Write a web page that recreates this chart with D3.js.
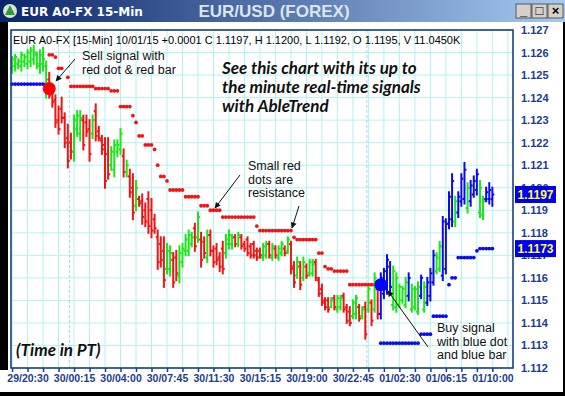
<!DOCTYPE html>
<html>
<head>
<meta charset="utf-8">
<script src="https://cdnjs.cloudflare.com/ajax/libs/d3/7.8.5/d3.min.js"></script>
<style>
    body { margin: 0; background: #fff; }
    svg { display: block; }
</style>
</head>
<body>
<svg id="chart"></svg>
<script>
// 15-min bars, index 0 = 29/19:15
var barColors = ("gggggggggg" + "ggrrrrrrrr" + "gggrrrgrrr" + "rrggggrgrr" + "grrrrrrrrr" +
    "ggrrgggggr" + "grrgrrrrrg" + "ggrgrrrrrr" + "rggrgrggrg" + "rrgrgrggrr" +
    "rrrgrggrrr" + "ggrgrgrgrb" + "bbbgggggbg" + "ggbgbbbggb" + "bbbgbbbgbb" + "bggbbb").split("");

var highs = [
    1.1258, 1.1259, 1.1257, 1.1260, 1.1259, 1.1261, 1.1262, 1.1263, 1.1260, 1.1261,
    1.1262, 1.1256, 1.1251, 1.1244, 1.1241, 1.1236, 1.1240, 1.1233, 1.1228, 1.1224,
    1.1232, 1.1234, 1.1234, 1.1232, 1.1232, 1.1230, 1.1232, 1.1237, 1.1227, 1.1223,
    1.1222, 1.1222, 1.1218, 1.1221, 1.1221, 1.1226, 1.1217, 1.1212, 1.1208, 1.1206,
    1.1203, 1.1196, 1.1197, 1.1193, 1.1198, 1.1195, 1.1188, 1.1181, 1.1178, 1.1178,
    1.1175, 1.1174, 1.1171, 1.1172, 1.1174, 1.1175, 1.1179, 1.1181, 1.1180, 1.1184,
    1.1189, 1.1180, 1.1178, 1.1181, 1.1181, 1.1174, 1.1175, 1.1171, 1.1176, 1.1179,
    1.1181, 1.1179, 1.1179, 1.1180, 1.1179, 1.1176, 1.1178, 1.1175, 1.1176, 1.1173,
    1.1173, 1.1175, 1.1176, 1.1176, 1.1175, 1.1174, 1.1174, 1.1176, 1.1174, 1.1178,
    1.1176, 1.1167, 1.1169, 1.1167, 1.1169, 1.1166, 1.1168, 1.1168, 1.1168, 1.1160,
    1.1157, 1.1151, 1.1151, 1.1151, 1.1152, 1.1152, 1.1152, 1.1153, 1.1148, 1.1147,
    1.1150, 1.1152, 1.1148, 1.1147, 1.1149, 1.1156, 1.1150, 1.1162, 1.1156, 1.1162,
    1.1164, 1.1170, 1.1167, 1.1165, 1.1162, 1.1157, 1.1156, 1.1160, 1.1162, 1.1157,
    1.1156, 1.1158, 1.1161, 1.1158, 1.1160, 1.1164, 1.1172, 1.1171, 1.1176, 1.1187,
    1.1186, 1.1198, 1.1206, 1.1196, 1.1198, 1.1206, 1.1211, 1.1202, 1.1203, 1.1205,
    1.1208, 1.1203, 1.1196, 1.1200, 1.1202, 1.1200
];

var lows = [
    1.1251, 1.1252, 1.1253, 1.1252, 1.1254, 1.1253, 1.1254, 1.1255, 1.1253, 1.1251,
    1.1252, 1.1240, 1.1240, 1.1236, 1.1227, 1.1224, 1.1229, 1.1218, 1.1209, 1.1213,
    1.1212, 1.1223, 1.1221, 1.1217, 1.1223, 1.1212, 1.1222, 1.1221, 1.1221, 1.1215,
    1.1200, 1.1204, 1.1208, 1.1205, 1.1214, 1.1215, 1.1205, 1.1205, 1.1196, 1.1186,
    1.1190, 1.1192, 1.1184, 1.1183, 1.1180, 1.1178, 1.1180, 1.1164, 1.1165, 1.1156,
    1.1162, 1.1161, 1.1156, 1.1159, 1.1158, 1.1165, 1.1170, 1.1170, 1.1174, 1.1172,
    1.1176, 1.1165, 1.1169, 1.1167, 1.1170, 1.1165, 1.1166, 1.1163, 1.1162, 1.1169,
    1.1173, 1.1173, 1.1174, 1.1174, 1.1173, 1.1172, 1.1170, 1.1169, 1.1169, 1.1168,
    1.1169, 1.1168, 1.1169, 1.1169, 1.1168, 1.1169, 1.1168, 1.1170, 1.1170, 1.1171,
    1.1162, 1.1156, 1.1160, 1.1155, 1.1159, 1.1160, 1.1161, 1.1161, 1.1159, 1.1152,
    1.1148, 1.1146, 1.1145, 1.1147, 1.1146, 1.1145, 1.1146, 1.1145, 1.1140, 1.1139,
    1.1142, 1.1142, 1.1141, 1.1142, 1.1133, 1.1145, 1.1139, 1.1145, 1.1142, 1.1142,
    1.1151, 1.1153, 1.1154, 1.1146, 1.1145, 1.1147, 1.1149, 1.1147, 1.1150, 1.1145,
    1.1146, 1.1144, 1.1151, 1.1145, 1.1148, 1.1150, 1.1157, 1.1162, 1.1163, 1.1159,
    1.1162, 1.1182, 1.1183, 1.1183, 1.1187, 1.1192, 1.1193, 1.1189, 1.1192, 1.1196,
    1.1197, 1.1187, 1.1186, 1.1194, 1.1193, 1.1192
];

var opens = [
    1.1253, 1.1254, 1.1255, 1.1254, 1.1256, 1.1255, 1.1256, 1.1257, 1.1259, 1.1254,
    1.1255, 1.1254, 1.1248, 1.1242, 1.1239, 1.1230, 1.1235, 1.1231, 1.1222, 1.1220,
    1.1216, 1.1226, 1.1224, 1.1230, 1.1229, 1.1226, 1.1224, 1.1234, 1.1225, 1.1221,
    1.1219, 1.1215, 1.1210, 1.1208, 1.1216, 1.1217, 1.1214, 1.1207, 1.1205, 1.1200,
    1.1192, 1.1195, 1.1194, 1.1190, 1.1195, 1.1190, 1.1186, 1.1178, 1.1175, 1.1172,
    1.1164, 1.1164, 1.1168, 1.1169, 1.1161, 1.1167, 1.1172, 1.1172, 1.1175, 1.1182,
    1.1178, 1.1177, 1.1176, 1.1169, 1.1179, 1.1172, 1.1173, 1.1169, 1.1173, 1.1171,
    1.1175, 1.1175, 1.1178, 1.1175, 1.1178, 1.1175, 1.1177, 1.1174, 1.1175, 1.1172,
    1.1172, 1.1169, 1.1170, 1.1175, 1.1169, 1.1173, 1.1169, 1.1171, 1.1173, 1.1172,
    1.1175, 1.1165, 1.1161, 1.1165, 1.1160, 1.1165, 1.1162, 1.1162, 1.1167, 1.1159,
    1.1155, 1.1150, 1.1150, 1.1147, 1.1151, 1.1146, 1.1147, 1.1152, 1.1147, 1.1145,
    1.1143, 1.1144, 1.1147, 1.1143, 1.1147, 1.1146, 1.1149, 1.1146, 1.1155, 1.1144,
    1.1153, 1.1155, 1.1165, 1.1148, 1.1147, 1.1148, 1.1150, 1.1148, 1.1152, 1.1146,
    1.1147, 1.1145, 1.1152, 1.1146, 1.1149, 1.1152, 1.1158, 1.1163, 1.1164, 1.1161,
    1.1164, 1.1184, 1.1186, 1.1185, 1.1189, 1.1194, 1.1195, 1.1191, 1.1194, 1.1197,
    1.1199, 1.1189, 1.1188, 1.1195, 1.1195, 1.1195
];

var closes = [
    1.1257, 1.1258, 1.1256, 1.1259, 1.1258, 1.1260, 1.1261, 1.1260, 1.1255, 1.1259,
    1.1257, 1.1243, 1.1241, 1.1238, 1.1229, 1.1226, 1.1231, 1.1220, 1.1212, 1.1216,
    1.1230, 1.1232, 1.1231, 1.1219, 1.1225, 1.1215, 1.1230, 1.1223, 1.1222, 1.1217,
    1.1203, 1.1206, 1.1216, 1.1219, 1.1219, 1.1224, 1.1207, 1.1210, 1.1198, 1.1189,
    1.1200, 1.1193, 1.1187, 1.1185, 1.1183, 1.1181, 1.1182, 1.1167, 1.1168, 1.1159,
    1.1172, 1.1171, 1.1158, 1.1162, 1.1171, 1.1173, 1.1177, 1.1179, 1.1178, 1.1174,
    1.1187, 1.1168, 1.1171, 1.1179, 1.1172, 1.1167, 1.1168, 1.1165, 1.1164, 1.1177,
    1.1179, 1.1178, 1.1175, 1.1179, 1.1174, 1.1173, 1.1171, 1.1170, 1.1170, 1.1169,
    1.1170, 1.1174, 1.1175, 1.1170, 1.1174, 1.1170, 1.1173, 1.1175, 1.1171, 1.1177,
    1.1164, 1.1158, 1.1167, 1.1157, 1.1167, 1.1161, 1.1167, 1.1166, 1.1160, 1.1153,
    1.1149, 1.1147, 1.1146, 1.1150, 1.1147, 1.1151, 1.1151, 1.1146, 1.1141, 1.1140,
    1.1149, 1.1151, 1.1142, 1.1146, 1.1135, 1.1155, 1.1141, 1.1160, 1.1144, 1.1160,
    1.1163, 1.1168, 1.1156, 1.1163, 1.1160, 1.1156, 1.1155, 1.1158, 1.1160, 1.1155,
    1.1155, 1.1156, 1.1160, 1.1156, 1.1158, 1.1162, 1.1170, 1.1169, 1.1174, 1.1185,
    1.1184, 1.1196, 1.1203, 1.1194, 1.1196, 1.1204, 1.1208, 1.1200, 1.1201, 1.1203,
    1.1206, 1.1200, 1.1194, 1.1198, 1.1199, 1.1197
];

// resistance (red) and support (blue) dots, one per bar, null = none
var resistance = [
    null, null, null, null, null, null, null, null, null, null,
    null, null, 1.1259, 1.1259, 1.1258, 1.1253, 1.1253, null, 1.1249, 1.1245,
    1.1245, 1.1245, 1.1245, 1.1245, 1.1245, 1.1245, 1.1245, 1.1244, 1.1244, 1.1244,
    1.1244, 1.1244, 1.1243, 1.1243, 1.1243, 1.1236, 1.1236, 1.1236, 1.1236, 1.1232,
    1.1229, 1.1223, 1.1223, 1.1219, 1.1219, 1.1219, 1.1217, 1.1210, 1.1205, 1.1205,
    1.1203, 1.1199, 1.1199, 1.1199, 1.1199, 1.1199, 1.1196, 1.1196, 1.1196, 1.1196,
    1.1196, 1.1192, 1.1192, 1.1192, 1.1190, 1.1190, 1.1190, 1.1190, 1.1187, 1.1187,
    1.1187, 1.1187, 1.1187, 1.1187, 1.1187, 1.1187, 1.1187, 1.1187, 1.1187, 1.1183,
    1.1181, 1.1181, 1.1181, 1.1181, 1.1181, 1.1181, 1.1181, 1.1181, 1.1181, 1.1181,
    1.1181, 1.1178, 1.1177, 1.1177, 1.1177, 1.1177, 1.1177, 1.1177, 1.1177, 1.1171,
    1.1171, 1.1165, 1.1164, 1.1164, 1.1163, 1.1163, 1.1163, 1.1163, 1.1163, 1.1157,
    1.1157, 1.1157, 1.1157, 1.1157, 1.1157, 1.1157, 1.1157, 1.1157, 1.1157, null
];

var support = [
    1.1246, 1.1246, 1.1246, 1.1246, 1.1246, 1.1246, 1.1246, 1.1246, 1.1246, 1.1246,
    1.1246, 1.1246, null, null, null, null, null, null, null, null,
    null, null, null, null, null, null, null, null, null, null,
    null, null, null, null, null, null, null, null, null, null,
    null, null, null, null, null, null, null, null, null, null,
    null, null, null, null, null, null, null, null, null, null,
    null, null, null, null, null, null, null, null, null, null,
    null, null, null, null, null, null, null, null, null, null,
    null, null, null, null, null, null, null, null, null, null,
    null, null, null, null, null, null, null, null, null, null,
    null, null, null, null, null, null, null, null, null, null,
    null, null, null, null, null, null, null, null, null, 1.1131,
    1.1131, 1.1131, 1.1131, 1.1131, 1.1131, 1.1131, 1.1131, 1.1131, 1.1131, 1.1131,
    1.1131, 1.1131, 1.1135, 1.1135, 1.1135, 1.1135, 1.1143, 1.1143, 1.1143, 1.1143,
    1.1143, 1.1157, 1.1160, 1.1160, 1.1169, 1.1169, 1.1169, 1.1169, 1.1169, 1.1169,
    1.1172, 1.1173, 1.1173, 1.1173, 1.1173, 1.1173
];

// big signal dots
var signalBars = [12, 119];
var signalPrices = [1.1244, 1.1157];
var signalColors = ["#ff0000", "#0000ff"];

var priceTicks = [1.112, 1.113, 1.114, 1.115, 1.116, 1.117, 1.118, 1.119,
    1.120, 1.121, 1.122, 1.123, 1.124, 1.125, 1.126, 1.127];
var labelBars = [5, 20, 35, 50, 65, 80, 95, 110, 125, 140, 155];
var timeLabels = ["29/20:30", "30/00:15", "30/04:00", "30/07:45", "30/11:30", "30/15:15",
    "30/19:00", "30/22:45", "01/02:30", "01/06:15", "01/10:00"];
var daySplits = [18.5, 114.5];

// last price / support boxes on the axis
var boxPrices = [1.1197, 1.1173];

var W = 565, H = 396;
var plot = {left: 11, right: 513, top: 30, bottom: 368};
var colorMap = {g: "#19e619", r: "#f01414", b: "#0a0aee"};
var axisBlue = "#1c3c8c";

var svg = d3.select("#chart")
    .attr("width", W)
    .attr("height", H)
    .style("font-family", "'Liberation Sans', Arial, sans-serif");

var x = d3.scaleLinear()
    .domain([-0.5, 161.5])
    .range([10.5, 512.5]);

var y = d3.scaleLinear()
    .domain([1.112, 1.127])
    .range([plot.bottom, plot.top]);

svg.append("rect").attr("width", W).attr("height", H).attr("fill", "#fff");

// ---- grid ----
var grid = svg.append("g");
var gridBars = d3.range(0, 161, 5);

grid.selectAll(".vgrid")
    .data(gridBars)
    .enter()
    .append("line")
    .attr("x1", function (d) { return x(d); })
    .attr("x2", function (d) { return x(d); })
    .attr("y1", plot.top)
    .attr("y2", plot.bottom)
    .attr("stroke", "#b2f2f2")
    .attr("stroke-width", 1);

grid.selectAll(".hgrid")
    .data(priceTicks)
    .enter()
    .append("line")
    .attr("x1", plot.left)
    .attr("x2", plot.right)
    .attr("y1", function (d) { return y(d); })
    .attr("y2", function (d) { return y(d); })
    .attr("stroke", "#b2f2f2")
    .attr("stroke-width", 1);

grid.selectAll(".daysplit")
    .data(daySplits)
    .enter()
    .append("line")
    .attr("x1", function (d) { return x(d); })
    .attr("x2", function (d) { return x(d); })
    .attr("y1", plot.top)
    .attr("y2", plot.bottom)
    .attr("stroke", "#9fdede")
    .attr("stroke-dasharray", "3,2");

// ---- dots ----
function drawDots(values, color) {
    svg.append("g")
        .selectAll("circle")
        .data(values.map(function (v, i) { return {i: i, v: v}; })
            .filter(function (d) { return d.v !== null; }))
        .enter()
        .append("circle")
        .attr("cx", function (d) { return x(d.i); })
        .attr("cy", function (d) { return y(d.v); })
        .attr("r", 1.9)
        .attr("fill", color);
}
drawDots(resistance, "#f01414");
drawDots(support, "#0a0aee");

// ---- OHLC bars ----
var bars = svg.append("g")
    .selectAll("g")
    .data(highs.map(function (h, i) {
        return {i: i, h: h, l: lows[i], o: opens[i], c: closes[i], col: colorMap[barColors[i]]};
    }))
    .enter()
    .append("g")
    .attr("stroke", function (d) { return d.col; })
    .attr("stroke-width", 2);

bars.append("line")
    .attr("x1", function (d) { return x(d.i); })
    .attr("x2", function (d) { return x(d.i); })
    .attr("y1", function (d) { return y(d.h) - 1; })
    .attr("y2", function (d) { return y(d.l) + 1; });

bars.append("line")
    .attr("x1", function (d) { return x(d.i) - 2; })
    .attr("x2", function (d) { return x(d.i); })
    .attr("y1", function (d) { return y(d.o); })
    .attr("y2", function (d) { return y(d.o); });

bars.append("line")
    .attr("x1", function (d) { return x(d.i); })
    .attr("x2", function (d) { return x(d.i) + 2; })
    .attr("y1", function (d) { return y(d.c); })
    .attr("y2", function (d) { return y(d.c); });

// ---- signals ----
svg.append("g")
    .selectAll("circle")
    .data(signalBars)
    .enter()
    .append("circle")
    .attr("cx", function (d) { return x(d); })
    .attr("cy", function (d, i) { return y(signalPrices[i]); })
    .attr("r", 6.5)
    .attr("fill", function (d, i) { return signalColors[i]; });

// ---- frame & axes ----
svg.append("rect")
    .attr("x", plot.left)
    .attr("y", plot.top)
    .attr("width", plot.right - plot.left)
    .attr("height", plot.bottom - plot.top)
    .attr("fill", "none")
    .attr("stroke", "#17407f")
    .attr("stroke-width", 1.6);

var yAxis = d3.axisRight(y)
    .tickValues(priceTicks)
    .tickSize(0)
    .tickPadding(8)
    .tickFormat(d3.format(".3f"));

var yg = svg.append("g")
    .attr("transform", "translate(" + plot.right + ",0)")
    .call(yAxis);
yg.select(".domain").remove();
yg.selectAll("text")
    .attr("fill", axisBlue)
    .style("font-size", "11px")
    .style("font-weight", "bold")
    .style("font-family", "'Liberation Sans', Arial, sans-serif");

var xAxis = d3.axisBottom(x)
    .tickValues(gridBars.filter(function (d) { return d <= 155; }))
    .tickSize(4)
    .tickPadding(3)
    .tickFormat(function (d) {
        var k = labelBars.indexOf(d);
        return k < 0 ? "" : timeLabels[k];
    });

var xg = svg.append("g")
    .attr("transform", "translate(0," + plot.bottom + ")")
    .call(xAxis);
xg.select(".domain").remove();
xg.selectAll("line").attr("stroke", axisBlue).attr("stroke-width", 1.5);
xg.selectAll("text")
    .attr("fill", axisBlue)
    .style("font-size", "10.5px")
    .style("font-weight", "bold")
    .style("font-family", "'Liberation Sans', Arial, sans-serif");

// price boxes
var boxes = svg.append("g")
    .selectAll("g")
    .data(boxPrices)
    .enter()
    .append("g");
boxes.append("rect")
    .attr("x", 515)
    .attr("y", function (d) { return y(d) - 8.5; })
    .attr("width", 41)
    .attr("height", 17)
    .attr("fill", "#0000ee");
boxes.append("text")
    .attr("x", 535.5)
    .attr("y", function (d) { return y(d) + 4.5; })
    .attr("text-anchor", "middle")
    .attr("fill", "#ffff33")
    .style("font-size", "12px")
    .style("font-weight", "bold")
    .text(function (d) { return d.toFixed(4); });

// ---- texts ----
svg.append("text")
    .attr("x", 13)
    .attr("y", 44)
    .style("font-size", "11px")
    .attr("fill", "#000")
    .text("EUR A0-FX [15-Min] 10/01/15 +0.0001 C 1.1197, H 1.1200, L 1.1192, O 1.1195, V 11.0450K");

var promo = ["See this chart with its up to", "the minute real-time signals", "with AbleTrend"];
svg.append("g")
    .selectAll("text")
    .data(promo)
    .enter()
    .append("text")
    .attr("x", 222)
    .attr("y", function (d, i) { return 74 + i * 19; })
    .style("font-family", "Lato, 'Open Sans', sans-serif")
    .style("font-size", "17px")
    .style("font-weight", "bold")
    .style("font-style", "italic")
    .attr("fill", "#111")
    .text(function (d) { return d; });

svg.append("text")
    .attr("x", 16)
    .attr("y", 356)
    .style("font-family", "Lato, 'Open Sans', sans-serif")
    .style("font-size", "17px")
    .style("font-weight", "bold")
    .style("font-style", "italic")
    .attr("fill", "#111")
    .text("(Time in PT)");

function note(lines, x0, y0) {
    svg.append("g")
        .selectAll("text")
        .data(lines)
        .enter()
        .append("text")
        .attr("x", x0)
        .attr("y", function (d, i) { return y0 + i * 13.5; })
        .style("font-size", "12.5px")
        .attr("fill", "#111")
        .text(function (d) { return d; });
}
note(["Sell signal with", "red dot & red bar"], 82, 60);
note(["Small red", "dots are", "resistance"], 248, 170);
note(["Buy signal", "with blue dot", "and blue bar"], 437, 332);

var defs = svg.append("defs");
defs.append("marker")
    .attr("id", "head")
    .attr("viewBox", "0 0 10 10")
    .attr("refX", 9)
    .attr("refY", 5)
    .attr("markerWidth", 7)
    .attr("markerHeight", 6)
    .attr("markerUnits", "userSpaceOnUse")
    .attr("orient", "auto")
    .append("path")
    .attr("d", "M0,0L10,5L0,10z")
    .attr("fill", "#111");

var arrows = [[75, 59, 56, 81], [240, 175, 215, 208], [299, 206, 292, 228], [428, 347, 388, 291]];
svg.append("g")
    .selectAll("line")
    .data(arrows)
    .enter()
    .append("line")
    .attr("x1", function (d) { return d[0]; })
    .attr("y1", function (d) { return d[1]; })
    .attr("x2", function (d) { return d[2]; })
    .attr("y2", function (d) { return d[3]; })
    .attr("stroke", "#111")
    .attr("stroke-width", 1)
    .attr("marker-end", "url(#head)");

// ---- window chrome ----
var grad = defs.append("linearGradient").attr("id", "tbar");
grad.append("stop").attr("offset", "0%").attr("stop-color", "#0a246a");
grad.append("stop").attr("offset", "100%").attr("stop-color", "#a6caf0");

svg.append("rect").attr("width", W).attr("height", 22).attr("fill", "url(#tbar)");
svg.append("rect").attr("x", 0).attr("y", 22).attr("width", 8).attr("height", 348).attr("fill", "#000");
svg.append("rect").attr("x", 0).attr("y", 392).attr("width", W).attr("height", 4).attr("fill", "#000");
svg.append("rect").attr("x", 563).attr("y", 22).attr("width", 2).attr("height", H - 22).attr("fill", "#000");

svg.append("circle").attr("cx", 10).attr("cy", 11).attr("r", 7).attr("fill", "#d9e4d6");
svg.append("path").attr("d", "M10,5L15,15L5,15Z").attr("fill", "#2d9a3c");

svg.append("text")
    .attr("x", 21)
    .attr("y", 16)
    .attr("fill", "#fff")
    .style("font-family", "'DejaVu Sans', sans-serif")
    .style("font-size", "12px")
    .style("font-weight", "bold")
    .text("EUR A0-FX 15-Min");

svg.append("text")
    .attr("x", 274)
    .attr("y", 17)
    .attr("text-anchor", "middle")
    .attr("fill", "#dce4ee")
    .style("font-size", "17px")
    .style("font-weight", "bold")
    .text("EUR/USD (FOREX)");

var btns = [{x: 516, s: "_"}, {x: 532, s: "□"}, {x: 548, s: "×"}];
var bg = svg.append("g").selectAll("g").data(btns).enter().append("g");
bg.append("rect")
    .attr("x", function (d) { return d.x; })
    .attr("y", 4)
    .attr("width", 15)
    .attr("height", 14)
    .attr("fill", "#d4d0c8")
    .attr("stroke", "#404040")
    .attr("stroke-width", 0.8);
bg.append("text")
    .attr("x", function (d) { return d.x + 7.5; })
    .attr("y", 15)
    .attr("text-anchor", "middle")
    .style("font-size", "13px")
    .style("font-weight", "bold")
    .attr("fill", "#000")
    .text(function (d) { return d.s; });
</script>
</body>
</html>
